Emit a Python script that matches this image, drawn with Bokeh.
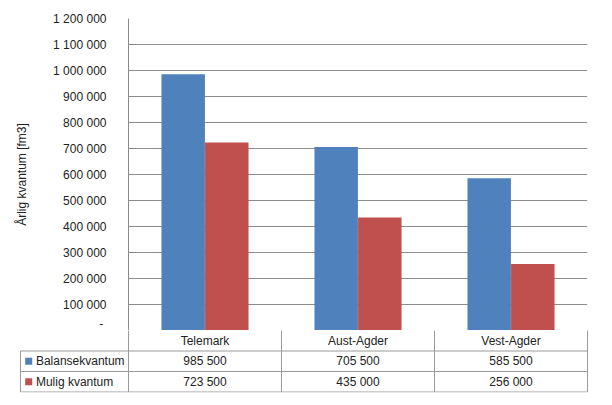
from bokeh.plotting import figure
from bokeh.models import Range1d, FixedTicker, ColumnDataSource
from bokeh.embed import file_html
from bokeh.resources import INLINE
from bokeh.core.properties import value

# ---- data ----
categories = ["Telemark", "Aust-Agder", "Vest-Agder"]
series_names = ["Balansekvantum", "Mulig kvantum"]
balanse = [985500, 705500, 585500]
mulig = [723500, 435000, 256000]
colors = ["#4F81BD", "#C0504D"]
y_ticks = [0, 100000, 200000, 300000, 400000, 500000, 600000,
           700000, 800000, 900000, 1000000, 1100000, 1200000]
y_tick_labels = ["-\u00a0", "100 000", "200 000", "300 000", "400 000", "500 000",
                 "600 000", "700 000", "800 000", "900 000", "1 000 000",
                 "1 100 000", "1 200 000"]
y_label = "Årlig kvantum [fm3]"


def fmt(v):
    return f"{v:,}".replace(",", " ")


# ---- styles / layout (pixels) ----
FONT = "Liberation Sans"
FS = "12px"
TXT = "#222222"
GRID = "#8C8C8C"
TABLE = "#9A9A9A"

W = 600
FRAME_L, FRAME_R, FRAME_T, FRAME_B = 128, 587, 18, 330
N = len(categories)
COL_PX = (FRAME_R - FRAME_L) / N
LEG_PX = 108
ROW_PX = 20.5
TABLE_FRAME_H = 62
BAR_W = 0.284
OFFS = [-0.1425, 0.1425]

# ---- chart ----
p1 = figure(width=W, height=FRAME_B, x_range=Range1d(0, N),
            y_range=Range1d(y_ticks[0], y_ticks[-1]),
            output_backend="svg", toolbar_location=None,
            min_border_left=FRAME_L, min_border_right=W - FRAME_R,
            min_border_top=FRAME_T, min_border_bottom=0)
p1.xaxis.visible = False
p1.xgrid.visible = False
p1.ygrid.grid_line_color = GRID
p1.outline_line_color = None
p1.yaxis.ticker = FixedTicker(ticks=y_ticks)
p1.yaxis.major_label_overrides = {t: l for t, l in zip(y_ticks, y_tick_labels)}
p1.yaxis.major_tick_line_color = None
p1.yaxis.minor_tick_line_color = None
p1.yaxis.axis_line_color = GRID
p1.yaxis.major_label_standoff = 16
p1.yaxis.major_label_text_font = FONT
p1.yaxis.major_label_text_font_size = FS
p1.yaxis.major_label_text_color = TXT
p1.yaxis.axis_label = y_label
p1.yaxis.axis_label_text_font = FONT
p1.yaxis.axis_label_text_font_size = FS
p1.yaxis.axis_label_text_font_style = "normal"
p1.yaxis.axis_label_text_color = TXT
p1.yaxis.axis_label_standoff = 21

for vals, off, col in zip([balanse, mulig], OFFS, colors):
    src = ColumnDataSource(dict(x=[i + 0.5 + off for i in range(N)], top=vals))
    p1.vbar(x="x", top="top", bottom=0, width=BAR_W, source=src,
            fill_color=col, line_color=None)

# ---- data table ----
leg = -LEG_PX / COL_PX
padx = 1 / COL_PX
p2 = figure(width=W, height=TABLE_FRAME_H + 8,
            x_range=Range1d(leg - padx, N + padx),
            y_range=Range1d(TABLE_FRAME_H / ROW_PX, 0),
            output_backend="svg", toolbar_location=None,
            min_border_left=FRAME_L - LEG_PX - 1, min_border_right=W - FRAME_R - 1,
            min_border_top=0, min_border_bottom=8)
p2.axis.visible = False
p2.grid.visible = False
p2.outline_line_color = None

hy = [1, 2, 3]
p2.segment(x0=[leg] * len(hy), y0=hy, x1=[N] * len(hy), y1=hy,
           line_color=TABLE, line_width=1)
vx = [leg] + list(range(N + 1))
p2.segment(x0=vx, y0=[1] + [0] * (N + 1), x1=vx, y1=[3] * (N + 2),
           line_color=TABLE, line_width=1)

p2.text(x=[i + 0.5 for i in range(N)], y=[0.5] * N, text=categories,
        text_font=value(FONT), text_font_size=FS, text_color=TXT,
        text_align="center", text_baseline="middle")
for r, vals in enumerate([balanse, mulig]):
    p2.text(x=[i + 0.5 for i in range(N)], y=[r + 1.5] * N,
            text=[fmt(v) for v in vals],
            text_font=value(FONT), text_font_size=FS, text_color=TXT,
            text_align="center", text_baseline="middle")

p2.scatter(x=[leg + 8.2 / COL_PX] * 2, y=[1.5, 2.5], marker="square", size=7,
           fill_color=colors, line_color=None)
p2.text(x=[leg + 15.4 / COL_PX] * 2, y=[1.5, 2.5], text=series_names,
        text_font=value(FONT), text_font_size=FS, text_color=TXT,
        text_align="left", text_baseline="middle")

open("out.html", "w").write(file_html([p1, p2], INLINE))
